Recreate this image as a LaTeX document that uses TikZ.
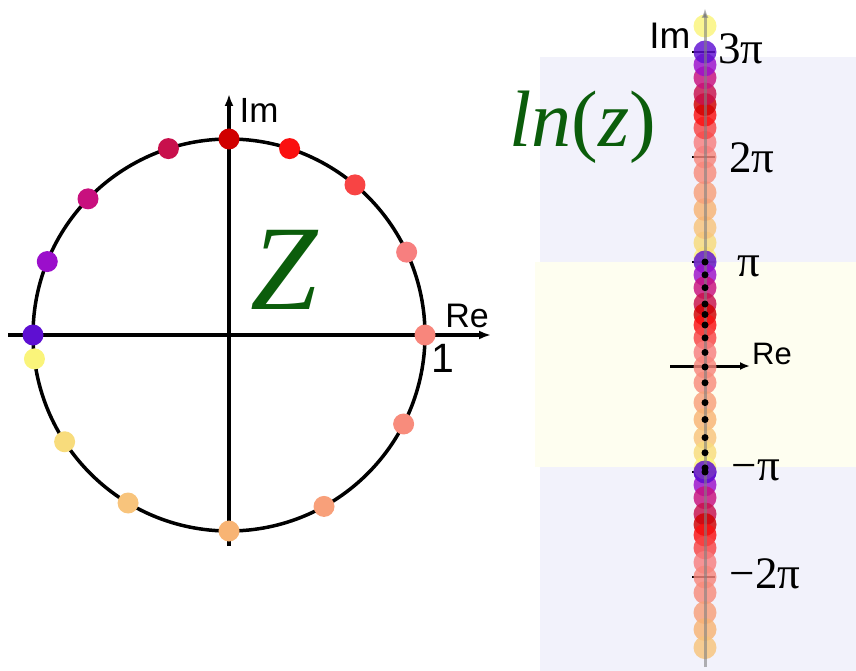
\documentclass[tikz,border=0pt]{standalone}
\usepackage{fontspec}
\setmainfont{Liberation Serif}
\newfontfamily\arialf{Liberation Sans}
\usetikzlibrary{arrows.meta}
\definecolor{cA}{HTML}{F8867C}
\definecolor{cB}{HTML}{F77F7F}
\definecolor{cC}{HTML}{F84444}
\definecolor{cD}{HTML}{FA1010}
\definecolor{cE}{HTML}{D00000}
\definecolor{cF}{HTML}{C8104C}
\definecolor{cG}{HTML}{C8107E}
\definecolor{cH}{HTML}{9B0FCB}
\definecolor{cI}{HTML}{5E0FD2}
\definecolor{cJ}{HTML}{FAF47A}
\definecolor{cK}{HTML}{F8DC7C}
\definecolor{cL}{HTML}{F8C47C}
\definecolor{cM}{HTML}{F8B474}
\definecolor{cN}{HTML}{F8A07A}
\definecolor{cO}{HTML}{F88C7C}
\definecolor{bandblue}{HTML}{F2F2FB}
\definecolor{bandcream}{HTML}{FEFEF0}
\definecolor{dkgreen}{HTML}{0B5D0B}
\tikzset{
  axisline/.style={line width=3.5pt, -{Latex[length=12pt,width=9pt]}},
  lbl/.style={inner sep=0pt},
  sanslbl/.style={inner sep=0pt, font=\arialf\fontsize{#1}{#1}\selectfont},
  seriflbl/.style={inner sep=0pt, font=\fontsize{45}{45}\selectfont},
  stripdot/.style={fill opacity=0.82},
}
\begin{document}
\begin{tikzpicture}[x=1pt,y=-1pt]
\useasboundingbox (0,0) rectangle (856,671);
% background bands
\fill[bandblue] (540,57) rectangle (856,262);
\fill[bandcream] (535,262) rectangle (856,467);
\fill[bandblue] (540,467) rectangle (856,671);
% ---------------- left: unit circle ----------------
\coordinate (O) at (229,335);
\coordinate (xl) at (8,335);
\coordinate (xr) at (491,335);
\coordinate (yb) at (229,546);
\coordinate (yt) at (229,94);
\draw[axisline] (xl) -- (xr);
\draw[axisline] (yb) -- (yt);
\draw[line width=3.5pt] (O) circle[radius=196pt];
\foreach \a/\c in {0/cA,25/cB,50/cC,72/cD,90/cE,108/cF,136/cG,158/cH,180/cI,-173/cJ,-147/cK,-121/cL,-90/cM,-61/cN,-27/cO}
  \fill[\c, shift={(O)}] (\a:196pt) circle[radius=10.5pt];
\node[sanslbl=35] (imL) at (259,110) {Im};
\node[sanslbl=34] (reL) at (467,316) {Re};
\node[sanslbl=41] (one) at (443,358) {1};
\node[lbl, text=dkgreen, font=\itshape\fontsize{121}{121}\selectfont] (Z) at (284,270) {Z};
% ---------------- right: ln(z) strip ----------------
\coordinate (rl) at (670,366);
\coordinate (rr) at (750,366);
\draw[line width=3pt, -{Latex[length=10pt,width=8pt]}] (rl) -- (rr);
\foreach \t in {52,157,262,472,577}
  \draw[line width=2.5pt] (692,\t) -- (715,\t);
% upper branch
\foreach \a/\c in {-173/cJ,-147/cK,-121/cL,-90/cM,-61/cN,-27/cO,0/cA,25/cB,50/cC,72/cD,90/cE,108/cF,136/cG,158/cH,180/cI}{
  \pgfmathsetmacro\yy{367-(\a+360)/180*105}
  \fill[\c, stripdot] (705,\yy) circle[radius=11.5pt];
}
\fill[cJ, stripdot] (705,26) circle[radius=11.5pt];
% lower branch
\foreach \a/\c in {180/cI,158/cH,136/cG,108/cF,90/cE,72/cD,50/cC,25/cB,0/cA,-27/cO,-61/cN,-90/cM,-121/cL}{
  \pgfmathsetmacro\yy{367-(\a-360)/180*105}
  \fill[\c, stripdot] (705,\yy) circle[radius=11.5pt];
}
% principal branch
\foreach \a/\c in {180/cI,158/cH,136/cG,108/cF,90/cE,72/cD,50/cC,25/cB,0/cA,-27/cO,-61/cN,-90/cM,-121/cL,-147/cK,-173/cJ,-180/cI}{
  \pgfmathsetmacro\yy{367-(\a)/180*105}
  \fill[\c, stripdot] (705,\yy) circle[radius=11.5pt];
}
% vertical gray axis
\coordinate (vb) at (705,667);
\coordinate (vt) at (705,8);
\draw[gray, line width=3pt, draw opacity=0.6, -{Latex[length=10pt,width=7pt]}] (vb) -- (vt);
% black centre dots
\foreach \a in {180,158,136,108,90,72,50,25,0,-27,-61,-90,-121,-147,-173,-180}{
  \pgfmathsetmacro\yy{367-(\a)/180*105}
  \fill[black] (705,\yy) circle[radius=3.5pt];
}
\node[sanslbl=37] (imR) at (670,36) {Im};
\node[sanslbl=31] (reR) at (772,354) {Re};
\node[seriflbl] (p3) at (741,49) {3π};
\node[seriflbl] (p2) at (752,158) {2π};
\node[seriflbl] (p1) at (749,266) {π};
\node[seriflbl] (m1) at (756,470) {−π};
\node[seriflbl] (m2) at (765,574) {−2π};
\node[lbl, text=dkgreen, font=\fontsize{80}{80}\selectfont] (lnz) at (583,127) {\textit{ln}(\textit{z})};
\end{tikzpicture}
\end{document}
